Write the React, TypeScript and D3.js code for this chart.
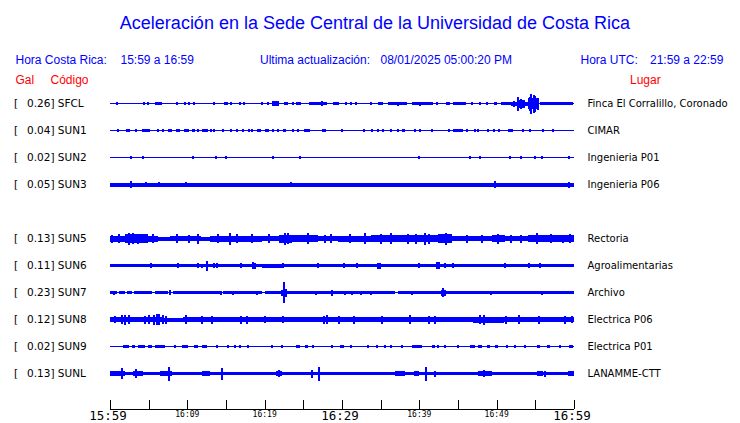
import React from "react";
import * as d3 from "d3";

// ---------- data ----------
const stations = ["SFCL", "SUN1", "SUN2", "SUN3", "SUN5", "SUN6", "SUN7", "SUN8", "SUN9", "SUNL"];
const slots = [0, 1, 2, 3, 5, 6, 7, 8, 9, 10];
const galValues = ["0.26", "0.04", "0.02", "0.05", "0.13", "0.11", "0.23", "0.12", "0.02", "0.13"];
const places = [
  "Finca El Corralillo, Coronado",
  "CIMAR",
  "Ingenieria P01",
  "Ingenieria P06",
  "Rectoria",
  "Agroalimentarias",
  "Archivo",
  "Electrica P06",
  "Electrica P01",
  "LANAMME-CTT",
];
// half thickness of the quiet trace (amplitude units)
const baseAmp = [0.5, 0.5, 0.5, 2.0, 1.5, 1.7, 0.5, 1.7, 0.5, 1.7];

// segments: [startMinute, endMinute, halfAmplitude]
const segSFCL: [number, number, number][] = [
  [5.8, 6.7, 1.5], [14.7, 15.2, 1.3], [20.9, 21.8, 2.7], [22.5, 23, 1.3], [24.1, 24.7, 1.5],
  [25.7, 28.1, 1.3], [28.8, 29.3, 1.3], [30.4, 30.6, 1.2], [34.7, 35.3, 1.3], [35.9, 38.4, 1.3],
  [39, 41.8, 1.3], [43.5, 44, 1.3], [44.4, 46, 1.3], [49.7, 50, 1.5], [50.6, 51.9, 1.6],
  [51.9, 52.6, 2], [52.6, 53.7, 4], [53.7, 54.1, 2], [54.1, 55.5, 5.5], [55.6, 59.9, 1.3],
];
const segSUN1: [number, number, number][] = [
  [2.1, 2.6, 1.3], [4.1, 5.2, 1.3], [6.1, 6.3, 1.3], [7.5, 8.0, 1.3], [8.5, 9.1, 1.3],
  [9.6, 10.2, 1.3], [10.6, 11.0, 1.3], [11.25, 11.5, 1.3], [11.9, 12.7, 1.3], [19.0, 19.5, 1.3],
  [20.0, 20.6, 1.3], [22.4, 22.8, 1.3], [25.1, 25.9, 1.3], [37.8, 38.1, 1.3], [43.7, 44.0, 1.3],
  [44.4, 45.7, 1.3], [51.5, 52.1, 1.3],
];
const segSUN2: [number, number, number][] = [];
const segSUN3: [number, number, number][] = [];
const segSUN5: [number, number, number][] = [
  [0, 1.9, 3], [1.9, 4.9, 4.3], [4.9, 6.2, 3], [6.2, 7.7, 2], [7.7, 11.8, 2.8], [11.8, 12.9, 2],
  [12.9, 19.6, 3], [19.6, 21.8, 2.8], [21.8, 23.5, 4], [23.5, 26.9, 3.3], [26.9, 29.5, 2.5],
  [29.5, 33.8, 3], [33.8, 37.3, 3.5], [37.3, 42.4, 3.8], [42.4, 44.2, 4.3], [44.2, 49.4, 2.6],
  [49.4, 51.1, 3.5], [51.1, 54.1, 2.6], [54.1, 55.8, 3.5], [55.8, 60, 3.2],
];
const segSUN6: [number, number, number][] = [
  [19.6, 22.2, 2], [34.5, 35.1, 3], [42.2, 42.7, 3.3],
];
const segSUN7: [number, number, number][] = [
  [0, 0.86, 1.5], [1.16, 1.94, 1.5], [2.15, 2.8, 1.5], [3.14, 5.4, 1.5], [5.8, 7.5, 1.5],
  [8.2, 14.2, 1.5], [14.65, 19.6, 1.5], [20.0, 22.2, 1.5], [22.8, 36.8, 1.5], [37.3, 60, 1.5],
];
const segSUN8: [number, number, number][] = [
  [0, 7, 2.8], [7, 9.5, 2], [9.5, 16, 2.7], [16, 21, 2.3], [21, 27, 2.7], [27, 33, 2.3],
  [33, 42, 2.8], [42, 47, 2.3], [47, 51, 3], [51, 60, 2.7],
];
const segSUN9: [number, number, number][] = [
  [1.7, 2.4, 1.3], [2.8, 3.2, 1.3], [3.65, 4.5, 1.3], [4.95, 5.4, 1.3], [5.8, 7.1, 1.3],
  [9.3, 10.1, 1.3], [10.8, 11.4, 1.3], [11.85, 12.5, 1.3], [15.1, 15.3, 1.3], [24.1, 24.6, 1.3],
  [25.2, 25.6, 1.3], [29.7, 30.2, 1.3], [39.0, 40.3, 1.3], [41.6, 42.0, 1.3], [46.5, 47.2, 1.3],
  [47.6, 48.05, 1.3], [48.7, 49.1, 1.3], [49.8, 50.2, 1.3], [55.2, 55.6, 1.3], [56.5, 56.9, 1.3],
  [59.3, 59.9, 1.3],
];
const segSUNL: [number, number, number][] = [
  [0, 1.9, 2.5], [3.0, 4.3, 2.5], [6.5, 8.0, 2.5], [11.85, 12.9, 2.5], [21.5, 22.2, 2.5],
  [36.85, 38.1, 2.5], [39.3, 39.9, 2.3], [47.6, 49.4, 2.5], [55.2, 56.0, 2.3], [59.2, 60, 2.3],
];

// spikes: [minute, halfAmplitude]
const spkSFCL: [number, number][] = [
  [0.87, 1.3], [4.4, 1.5], [4.95, 1.2], [8.7, 1.2], [9.7, 1.2], [10.2, 1.2], [10.9, 1.3], [13.5, 1.2],
  [15.7, 1.2], [16.8, 1.2], [17.3, 1.2], [19.6, 1.2], [20.4, 1.2], [23.6, 1.2], [27.4, 2.5], [29.5, 1.2],
  [31.2, 1.2], [31.8, 1.3], [33.7, 1.2], [37.3, 2], [40.1, 2], [40.7, 1.8], [42.3, 1.2], [46.8, 1.2],
  [47.8, 1.2], [48.7, 1.2], [52.2, 3], [52.7, 7], [53.2, 5], [54.3, 7], [54.5, 10], [54.8, 9],
  [55.0, 8], [55.3, 6],
];
const spkSUN1: [number, number][] = [
  [1.0, 1.2], [3.4, 1.2], [6.8, 1.2], [13.1, 1.2], [13.5, 1.2], [14.6, 1.2], [15.6, 1.2],
  [16.4, 1.2], [17.2, 1.2], [18.0, 1.2], [18.3, 1.2], [21.1, 1.2], [21.7, 1.2], [23.7, 1.2],
  [24.3, 1.2], [27.5, 1.2], [27.8, 1.2], [30.0, 1.2], [32.9, 1.2], [33.9, 1.2], [34.6, 1.2],
  [35.3, 1.2], [36.4, 1.2], [37.2, 1.2], [39.4, 1.2], [40.1, 1.2], [41.6, 1.2], [46.1, 1.2],
  [47.2, 1.2], [47.6, 1.2], [48.9, 1.2], [49.6, 1.2], [50.3, 1.2], [53.4, 1.2], [54.3, 1.2],
  [56.0, 1.2], [57.3, 1.2],
];
const spkSUN2: [number, number][] = [
  [2.7, 1.6], [4.3, 1.2], [10.7, 1.6], [13.7, 1.2], [15.0, 1.2], [21.1, 1.2], [24.6, 1.2], [39.9, 1.5],
  [46.5, 1.2], [47.8, 1.2], [51.7, 1.5], [53.2, 1.2], [55.0, 1.2], [55.8, 1.2], [59.4, 1.5],
];
const spkSUN3: [number, number][] = [
  [2.7, 3.3], [4.7, 2.8], [6.4, 2.8], [9.8, 2.8], [23.4, 2.8], [49.8, 3.3], [59.4, 3.0],
];
const spkSUN5: [number, number][] = [
  [0.3, 4], [1.2, 4.5], [2.4, 6], [3.0, 5.5], [3.6, 5], [4.3, 4.5], [5.5, 4.5], [8.6, 4.5],
  [10.2, 4], [11.4, 5], [14.0, 4.5], [15.5, 6], [16.4, 4.5], [18.3, 4.5], [20.5, 4.5], [22.6, 6],
  [23.0, 5.5], [25.6, 5.5], [27.8, 4], [28.6, 4.5], [31.0, 4.5], [33.0, 5.5], [35.1, 5],
  [36.4, 5.5], [38.5, 5], [39.6, 5], [40.7, 6], [41.3, 5], [43.4, 6], [46.2, 4], [48.1, 4],
  [50.2, 5], [51.8, 4], [53.2, 4], [55.2, 5.5], [57.0, 4.5], [58.6, 4], [59.5, 4.5],
];
const spkSUN6: [number, number][] = [
  [5.3, 2.3], [8.75, 2.3], [11.4, 2.3], [11.85, 2], [12.6, 5], [13.4, 2.5], [13.9, 2.5],
  [17.0, 2.3], [18.5, 3.5], [18.75, 3], [22.4, 2.3], [26.9, 2.3], [30.2, 2.3], [32.0, 2.3],
  [39.9, 2.5], [42.4, 3.5], [43.3, 2.5], [44.4, 2.5], [51.1, 2.3], [54.2, 2.3], [55.6, 2.5],
];
const spkSUN7: [number, number][] = [
  [0.56, 2], [7.75, 2.2], [14.4, 2], [15.9, 2], [18.96, 2], [22.2, 3], [22.5, 10.5], [22.8, 4],
  [26.6, 2], [28.7, 3], [30.4, 2], [31.3, 2], [32.5, 2], [33.8, 2], [39.0, 2], [42.9, 3],
  [43.1, 4.5], [43.3, 3], [49.3, 2], [55.8, 2],
];
const spkSUN8: [number, number][] = [
  [0.6, 3.5], [1.5, 4.5], [2.0, 5], [2.4, 4.5], [4.5, 4], [5.0, 4.5], [5.7, 5], [6.1, 5.5],
  [6.4, 5.5], [6.8, 4.5], [7.3, 4], [9.8, 4.2], [11.9, 4], [13.2, 4], [16.9, 4], [17.7, 4],
  [20.0, 3.8], [22.4, 3.8], [27.7, 4], [28.0, 4.5], [29.6, 4], [31.5, 4], [35.2, 4], [38.8, 4.5],
  [41.3, 4], [42.0, 4], [47.8, 4.5], [48.3, 5], [51.2, 4], [52.9, 4.2], [55.5, 4], [58.8, 4],
  [59.8, 3.8],
];
const spkSUN9: [number, number][] = [
  [8.4, 1.2], [13.8, 1.2], [16.2, 1.2], [16.8, 1.2], [17.9, 1.2], [20.9, 1.2], [22.2, 1.2],
  [26.3, 1.2], [28.7, 1.2], [31.2, 1.2], [33.4, 1.2], [34.5, 1.2], [35.55, 1.2], [36.4, 1.2],
  [37.7, 1.2], [42.45, 1.2], [43.3, 1.2], [45.0, 1.2], [51.3, 1.2], [52.4, 1.2], [53.7, 1.2],
  [58.2, 1.2],
];
const spkSUNL: [number, number][] = [
  [1.5, 5.7], [3.3, 4.5], [7.6, 7], [14.5, 6], [21.8, 3.5], [26.1, 4], [27.0, 7], [40.9, 7],
  [42.0, 3], [48.3, 3.5], [56.2, 3],
];

const segments = [segSFCL, segSUN1, segSUN2, segSUN3, segSUN5, segSUN6, segSUN7, segSUN8, segSUN9, segSUNL];
const spikes = [spkSFCL, spkSUN1, spkSUN2, spkSUN3, spkSUN5, spkSUN6, spkSUN7, spkSUN8, spkSUN9, spkSUNL];

const tickMinutes = [0, 5, 10, 15, 20, 25, 30, 35, 40, 45, 50, 55, 60];
const bigLabels = ["15:59", "16:29", "16:59"];
const labelMinutes = [0, 10, 20, 30, 40, 50, 60];
const labelTexts = ["15:59", "16:09", "16:19", "16:29", "16:39", "16:49", "16:59"];

// ---------- component ----------
export default function App() {
  const W = 740;
  const H = 423;
  const x = d3.scaleLinear().domain([0, 60]).range([110, 574]);
  const y = d3.scaleLinear().domain([0, 10]).range([103, 373]);
  const amp = d3.scaleLinear().domain([0, 12]).range([0, 12]);
  const blue = "#0000ff";
  const red = "#ff0000";
  const sans = "'Liberation Sans', Arial, sans-serif";
  const dv = "'DejaVu Sans', sans-serif";
  const mono = "'DejaVu Sans Mono', monospace";
  const axisY = 409;

  const vspan = (cy: number, a: number) => {
    const h = amp(a);
    const y0 = Math.round(cy + 0.5 - h);
    let y1 = Math.round(cy + 0.5 + h);
    if (y1 <= y0) y1 = y0 + 1;
    return { y: y0, height: y1 - y0 };
  };

  return (
    <div style={{ position: "absolute", left: 0, top: 0 }}>
      <svg width={W} height={H} style={{ display: "block", background: "#fff" }}>
        <text x={375} y={29} textAnchor="middle" fontFamily={sans} fontSize={18} fill={blue}>
          Aceleración en la Sede Central de la Universidad de Costa Rica
        </text>
        <g fontFamily={sans} fontSize={12} fill={blue}>
          <text x={15.5} y={64}>Hora Costa Rica:</text>
          <text x={120.5} y={64}>15:59 a 16:59</text>
          <text x={260} y={64}>Ultima actualización:</text>
          <text x={380.5} y={64}>08/01/2025 05:00:20 PM</text>
          <text x={580.5} y={64}>Hora UTC:</text>
          <text x={650} y={64}>21:59 a 22:59</text>
        </g>
        <g fontFamily={sans} fontSize={12} fill={red}>
          <text x={15.5} y={84}>Gal</text>
          <text x={50.5} y={84}>Código</text>
          <text x={630} y={84}>Lugar</text>
        </g>

        {stations.map((st, i) => {
          const cy = y(slots[i]);
          const base = vspan(cy, baseAmp[i]);
          return (
            <g key={st}>
              <text x={14} y={cy + 4} fontFamily={dv} fontSize={10.5} fill="#000">[</text>
              <text x={27} y={cy + 4} fontFamily={dv} fontSize={10.5} fill="#000">{`${galValues[i]}] ${st}`}</text>
              <text x={587.5} y={cy + 4} fontFamily={dv} fontSize={10} fill="#000">{places[i]}</text>
              <g fill={blue} shapeRendering="crispEdges">
                <rect x={x(0)} y={base.y} width={x(60) - x(0)} height={base.height} />
                {segments[i].map(([s0, s1, a], k) => {
                  const v = vspan(cy, a);
                  const x0 = Math.round(x(s0));
                  const x1 = Math.max(x0 + 2, Math.round(x(s1)));
                  return <rect key={"s" + k} x={x0} y={v.y} width={x1 - x0} height={v.height} />;
                })}
                {spikes[i].map(([m, a], k) => {
                  const v = vspan(cy, a);
                  return <rect key={"p" + k} x={Math.round(x(m)) - 1} y={v.y} width={2} height={v.height} />;
                })}
              </g>
            </g>
          );
        })}

        <g stroke="#000" strokeWidth={1} shapeRendering="crispEdges">
          <line x1={x(0)} x2={x(60)} y1={axisY + 0.5} y2={axisY + 0.5} />
          {tickMinutes.map((m) => (
            <line key={m} x1={Math.round(x(m)) + 0.5} x2={Math.round(x(m)) + 0.5} y1={axisY - 9} y2={axisY} />
          ))}
        </g>
        {labelMinutes.map((m, k) => {
          const t = labelTexts[k];
          const big = bigLabels.includes(t);
          return (
            <text
              key={t}
              x={x(m) - (big ? 2 : 0)}
              y={big ? 420 : 417}
              textAnchor="middle"
              fontFamily={mono}
              fontSize={big ? 12.5 : 8}
              fill="#000"
            >
              {t}
            </text>
          );
        })}
      </svg>
    </div>
  );
}
